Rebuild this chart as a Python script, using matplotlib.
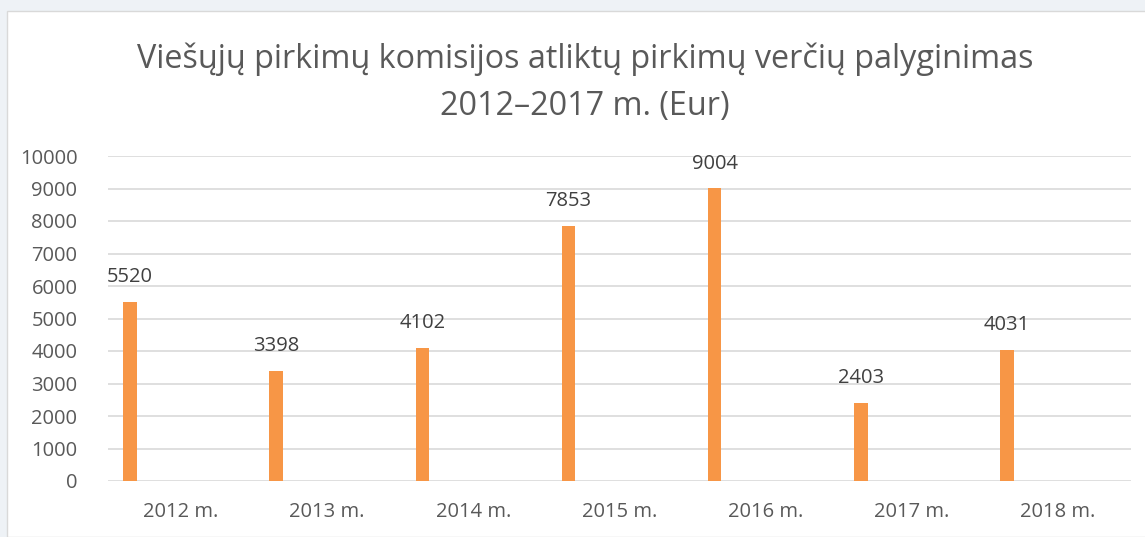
import matplotlib.pyplot as plt
import numpy as np
from matplotlib.patches import Rectangle

plt.rcParams['font.family'] = ['Open Sans', 'DejaVu Sans']

years = ['2012 m.', '2013 m.', '2014 m.', '2015 m.', '2016 m.', '2017 m.', '2018 m.']
values = [5520, 3398, 4102, 7853, 9004, 2403, 4031]

txt = '#595959'
fig = plt.figure(figsize=(11.45, 5.37), dpi=100)
fig.patch.set_facecolor('#eef2f6')
# white chart frame
fig.patches.append(Rectangle((7/1145, 0), 1.0, 526/537, transform=fig.transFigure,
                             facecolor='white', edgecolor='#d9d9d9', lw=1, zorder=-10))

ax = fig.add_axes([108/1145, 56/537, 1023/1145, 325/537])
ax.set_facecolor('none')

x = np.arange(len(years))
bx = x - 0.349
ax.bar(bx, values, width=0.092, color='#f79646', zorder=3)
for xi, v in zip(bx, values):
    ax.annotate(str(v), (xi, v), xytext=(0, 10.5), textcoords='offset points',
                ha='center', va='bottom', fontsize=14.5, color='#404040')

ax.set_xlim(-0.5, len(years) - 0.5)
ax.set_ylim(0, 10000)
ax.set_yticks(np.arange(0, 10001, 1000))
ax.set_xticks(x)
ax.set_xticklabels(years)
ax.tick_params(axis='both', length=0, labelsize=14.5, colors=txt)
ax.tick_params(axis='y', pad=22)
ax.tick_params(axis='x', pad=15)
ax.grid(axis='y', color='#d9d9d9', lw=1.2, zorder=0)
for s in ax.spines.values():
    s.set_visible(False)

fig.text(585/1145, 1 - 83/537, 'Viešųjų pirkimų komisijos atliktų pirkimų verčių palyginimas\n2012–2017 m. (Eur)',
         ha='center', va='center', fontsize=23.3, color=txt, linespacing=1.55)

fig.savefig('out.png', dpi=100, facecolor=fig.get_facecolor())
